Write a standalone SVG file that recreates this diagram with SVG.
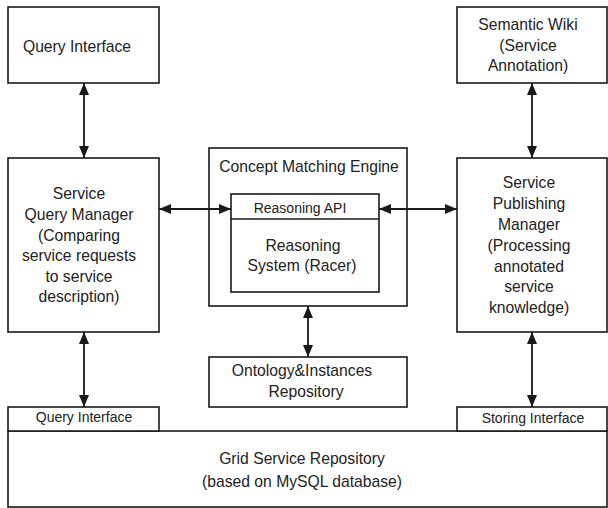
<svg xmlns="http://www.w3.org/2000/svg" width="608" height="508" viewBox="0 0 608 508">
<style>
  rect { fill: #fff; stroke: #1a1a1a; stroke-width: 1.6; }
  line { stroke: #1a1a1a; stroke-width: 1.8; }
  text { font-family: "Liberation Sans", Arial, sans-serif; fill: #222; text-anchor: middle; }
  .m { font-size: 15.7px; }
  .s { font-size: 14px; }
</style>
<defs>
  <marker id="ah" markerUnits="userSpaceOnUse" markerWidth="12" markerHeight="10" refX="12" refY="5" orient="auto-start-reverse">
    <path d="M0,0 L12,5 L0,10 Z" fill="#1a1a1a"/>
  </marker>
</defs>
<rect width="608" height="508" style="fill:#fff;stroke:none"/>

<g id="grid-repository">
  <rect x="8" y="431" width="599" height="76"/>
  <text class="m" x="302" y="464">Grid Service Repository</text>
  <text class="m" x="302" y="487">(based on MySQL database)</text>
</g>
<g id="query-interface-bottom">
  <rect x="8" y="407" width="151" height="24"/>
  <text class="s" x="84" y="422">Query Interface</text>
</g>
<g id="storing-interface">
  <rect x="457" y="407" width="150" height="24"/>
  <text class="s" x="533" y="423">Storing Interface</text>
</g>
<g id="query-interface">
  <rect x="8" y="7" width="151" height="76"/>
  <text class="m" x="77" y="52">Query Interface</text>
</g>
<g id="semantic-wiki">
  <rect x="457" y="7" width="150" height="76"/>
  <text class="m" x="528" y="30">Semantic Wiki</text>
  <text class="m" x="528" y="51">(Service</text>
  <text class="m" x="528" y="71">Annotation)</text>
</g>
<g id="service-query-manager">
  <rect x="8" y="158" width="151" height="174"/>
  <text class="m" x="79" y="199">Service</text>
  <text class="m" x="79" y="220">Query Manager</text>
  <text class="m" x="79" y="241">(Comparing</text>
  <text class="m" x="79" y="261">service requests</text>
  <text class="m" x="79" y="282">to service</text>
  <text class="m" x="79" y="302">description)</text>
</g>
<g id="service-publishing-manager">
  <rect x="457" y="158" width="150" height="174"/>
  <text class="m" x="529" y="188">Service</text>
  <text class="m" x="529" y="209">Publishing</text>
  <text class="m" x="529" y="230">Manager</text>
  <text class="m" x="529" y="251">(Processing</text>
  <text class="m" x="529" y="272">annotated</text>
  <text class="m" x="529" y="292">service</text>
  <text class="m" x="529" y="313">knowledge)</text>
</g>
<g id="concept-matching-engine">
  <rect x="209" y="148" width="198" height="158"/>
  <text class="m" x="309" y="172">Concept Matching Engine</text>
</g>
<g id="reasoning-system">
  <rect x="231" y="194" width="148" height="98"/>
  <line x1="231" y1="219" x2="379" y2="219" style="stroke-width:1.6"/>
  <text class="s" x="300" y="213">Reasoning API</text>
  <text class="m" x="303" y="251">Reasoning</text>
  <text class="m" x="302" y="271">System (Racer)</text>
</g>
<g id="ontology-repository">
  <rect x="209" y="357" width="198" height="50"/>
  <text class="m" x="302" y="376">Ontology&amp;Instances</text>
  <text class="m" x="306" y="397">Repository</text>
</g>

<g id="connectors">
  <line x1="84" y1="83" x2="84" y2="158" marker-start="url(#ah)" marker-end="url(#ah)"/>
  <line x1="84" y1="332" x2="84" y2="407" marker-start="url(#ah)" marker-end="url(#ah)"/>
  <line x1="532" y1="83" x2="532" y2="158" marker-start="url(#ah)" marker-end="url(#ah)"/>
  <line x1="532" y1="332" x2="532" y2="407" marker-start="url(#ah)" marker-end="url(#ah)"/>
  <line x1="159" y1="209" x2="231" y2="209" marker-start="url(#ah)" marker-end="url(#ah)"/>
  <line x1="379" y1="209" x2="457" y2="209" marker-start="url(#ah)" marker-end="url(#ah)"/>
  <line x1="308" y1="306" x2="308" y2="357" marker-start="url(#ah)" marker-end="url(#ah)"/>
</g>
</svg>
